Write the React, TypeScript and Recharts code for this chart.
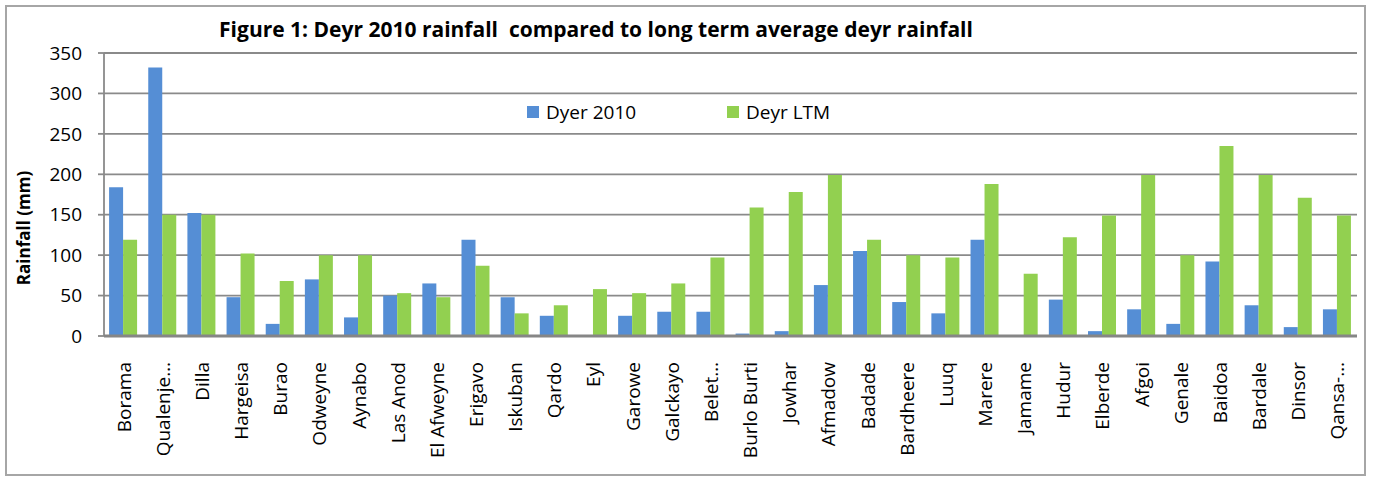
import { BarChart, Bar, XAxis, YAxis, CartesianGrid } from "recharts";

const stations = [
  "Borama", "Qualenje…", "Dilla", "Hargeisa", "Burao", "Odweyne", "Aynabo", "Las Anod",
  "El Afweyne", "Erigavo", "Iskuban", "Qardo", "Eyl", "Garowe", "Galckayo", "Belet…",
  "Burlo Burti", "Jowhar", "Afmadow", "Badade", "Bardheere", "Luuq", "Marere", "Jamame",
  "Hudur", "Elberde", "Afgoi", "Genale", "Baidoa", "Bardale", "Dinsor", "Qansa-…",
];
const dyer2010 = [184, 332, 152, 48, 15, 70, 23, 50, 65, 119, 48, 25, 0, 25, 30, 30, 3, 6, 63, 105, 42, 28, 119, 0, 45, 6, 33, 15, 92, 38, 11, 33];
const deyrLtm = [119, 150, 150, 102, 68, 100, 100, 53, 48, 87, 28, 38, 58, 53, 65, 97, 159, 178, 199, 119, 100, 97, 188, 77, 122, 149, 199, 100, 235, 199, 171, 149];
const yTicks = [0, 50, 100, 150, 200, 250, 300, 350];

const BLUE = "#558ED5";
const GREEN = "#92D050";
const FONT = "'Open Sans', sans-serif";

const data = stations.map((name, i) => ({ name, dyer: dyer2010[i], ltm: deyrLtm[i] }));

// rotated station names, ending just under the axis
const StationTick = (props: any) => {
  const { x, y, payload } = props;
  return (
    <g transform={`translate(${x},${y})`}>
      <text transform="rotate(-90)" x={-26} y={7} textAnchor="end" fontSize={19} fill="#000" fontFamily={FONT}>
        {payload.value}
      </text>
    </g>
  );
};

const App = () => {
  return (
    <div style={{ position: "absolute", left: 0, top: 0, width: 1374, height: 477, background: "#fff", fontFamily: FONT }}>
      <div style={{ position: "absolute", left: 5, top: 5, width: 1361, height: 471, border: "2px solid #a6a6a6", boxSizing: "border-box" }} />
      <BarChart
        width={1374}
        height={477}
        data={data}
        margin={{ top: 53, right: 17, bottom: 11, left: 0 }}
        barCategoryGap="13%"
        barGap={0}
      >
        <CartesianGrid vertical={false} stroke="#8a8a8a" strokeWidth={1.8} />
        <YAxis
          width={104}
          domain={[0, 350]}
          ticks={yTicks}
          interval={0}
          tickSize={6}
          tickMargin={16}
          axisLine={{ stroke: "#8a8a8a", strokeWidth: 1.8 }}
          tickLine={{ stroke: "#8a8a8a", strokeWidth: 1.8 }}
          tick={{ fontSize: 19, fill: "#000", fontFamily: FONT }}
        />
        <XAxis
          dataKey="name"
          height={130}
          interval={0}
          tickLine={false}
          tickSize={0}
          tickMargin={0}
          axisLine={{ stroke: "#868686", strokeWidth: 3 }}
          tick={<StationTick />}
        />
        <Bar dataKey="dyer" fill={BLUE} isAnimationActive={false} />
        <Bar dataKey="ltm" fill={GREEN} isAnimationActive={false} />
      </BarChart>

      <div style={{ position: "absolute", left: 0, width: 1192, top: 19, textAlign: "center", fontSize: 21, lineHeight: "21px", fontWeight: 700, whiteSpace: "pre" }}>
        {"Figure 1: Deyr 2010 rainfall  compared to long term average deyr rainfall"}
      </div>

      <div style={{ position: "absolute", left: -76, top: 218, width: 200, height: 20, lineHeight: "20px", textAlign: "center", fontSize: 17, fontWeight: 700, transform: "rotate(-90deg)" }}>
        Rainfall (mm)
      </div>

      <div style={{ position: "absolute", left: 527, top: 106, width: 12, height: 12, background: BLUE }} />
      <div style={{ position: "absolute", left: 546, top: 103, fontSize: 19, lineHeight: "19px", whiteSpace: "nowrap" }}>Dyer 2010</div>
      <div style={{ position: "absolute", left: 727, top: 106, width: 12, height: 12, background: GREEN }} />
      <div style={{ position: "absolute", left: 746, top: 103, fontSize: 19, lineHeight: "19px", whiteSpace: "nowrap" }}>Deyr LTM</div>
    </div>
  );
};

export default App;
